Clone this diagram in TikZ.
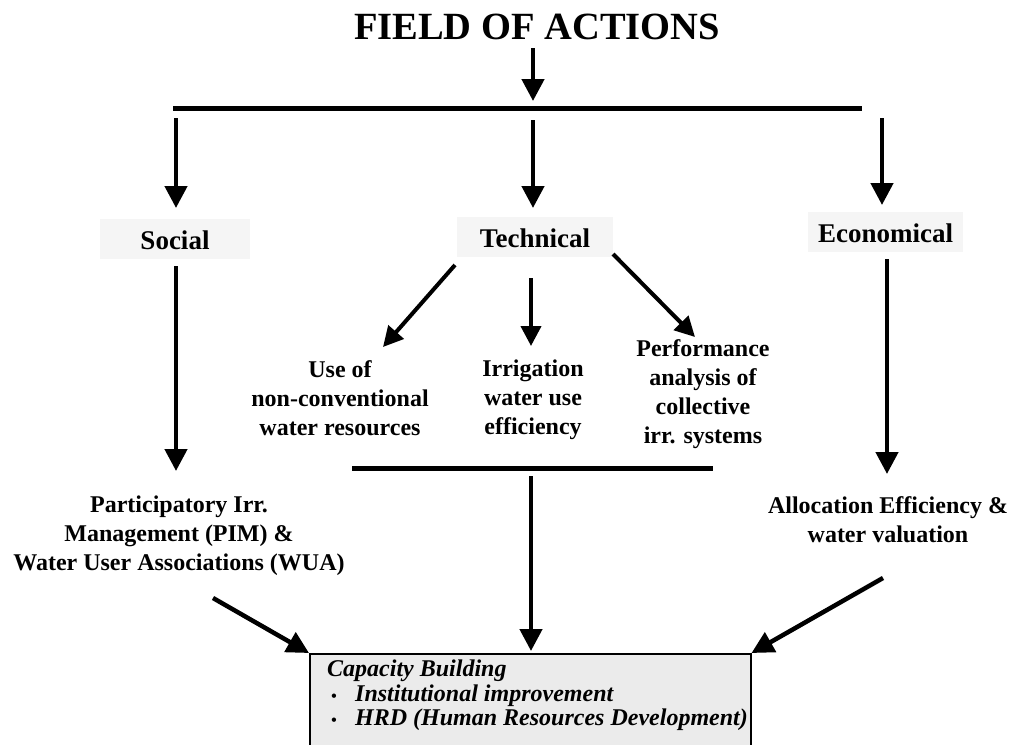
\documentclass[tikz,border=0pt]{standalone}
\usepackage{fontspec}
\setmainfont{Liberation Serif}
\usetikzlibrary{arrows.meta}
\begin{document}
\begin{tikzpicture}[x=1pt,y=-1pt,
  arr/.style={line width=4.5pt,-{Triangle[width=22pt,length=22pt]}},
  sarr/.style={line width=4pt,-{Triangle[width=20pt,length=20pt]}},
  bar/.style={line width=5pt},
  head/.style={fill=black!4,minimum height=40pt,inner ysep=7.5pt,text height=23pt,text depth=2pt,
    font=\bfseries\fontsize{27}{27}\selectfont,anchor=north},
  body/.style={align=center,inner sep=0pt,anchor=north,font=\bfseries\fontsize{24}{29}\selectfont},
  capbox/.style={draw=black,line width=1.5pt,fill=black!8,anchor=north west,minimum width=441pt,
    minimum height=110pt,inner sep=0pt},
  captext/.style={anchor=north west,inner sep=0pt,align=left,
    font=\bfseries\itshape\fontsize{24}{24.5}\selectfont}]
\useasboundingbox (0,0) rectangle (1013,745);
\fill[white] (0,0) rectangle (1013,745);

\node[font=\bfseries\fontsize{38.5}{38.5}\selectfont,anchor=base] (title) at (537,39) {FIELD OF ACTIONS};

\coordinate (t0) at (533,48);
\coordinate (t1) at (533,101);
\coordinate (barL) at (173,108);
\coordinate (barR) at (862,108);
\coordinate (sA) at (176,118);
\coordinate (tA) at (533,120);
\coordinate (eA) at (882,118);

\node[head,minimum width=150pt] (social) at (175,219) {Social};
\node[head,minimum width=156pt] (technical) at (535,217) {Technical};
\node[head,minimum width=155pt] (economical) at (885.5,212) {Economical};

\node[body] (useof) at (340,360) {Use of\\non-conventional\\water resources};
\node[body] (irrig) at (533,360) {Irrigation\\water use\\efficiency};
\node[body] (perf) at (703,339) {Performance\\analysis of\\collective\\irr. systems};
\node[body] (pim) at (179,496) {Participatory Irr.\\Management (PIM) \&\\Water User Associations (WUA)};
\node[body] (alloc) at (888,496) {Allocation Efficiency \&\\water valuation};

\coordinate (lineL) at (352,468);
\coordinate (lineR) at (713,468);

\node[capbox] (cap) at (309,653) {};
\node[captext] (captxt) at (327,660) {Capacity Building\\
\hspace*{4pt}\makebox[24pt][l]{\fontsize{16}{16}\selectfont\textbullet}Institutional improvement\\
\hspace*{4pt}\makebox[24pt][l]{\fontsize{16}{16}\selectfont\textbullet}HRD (Human Resources Development)};

% top part
\draw[arr] (t0) -- (t1);
\draw[bar] (barL) -- (barR);
\draw[arr] (sA) -- (sA |- 0,208);
\draw[arr] (tA) -- (tA |- 0,208);
\draw[arr] (eA) -- (eA |- 0,205);

% technical branches
\coordinate (tdl) at (455,265);
\coordinate (tdr) at (613,254);
\coordinate (tdm) at (531,278);
\draw[sarr] (tdl) -- (383,347);
\draw[sarr] (tdm) -- (531,346);
\draw[sarr] (tdr) -- (695,337);

% long verticals
\draw[arr] (176,266) -- (176,471);
\draw[arr] (887,259) -- (887,474);

\draw[bar] (lineL) -- (lineR);
\draw[arr] (531,476) -- (531,651);

% to capacity building
\draw[arr] (213,598) -- (cap.north west);
\draw[arr] (883,578) -- (cap.north east);
\end{tikzpicture}
\end{document}
